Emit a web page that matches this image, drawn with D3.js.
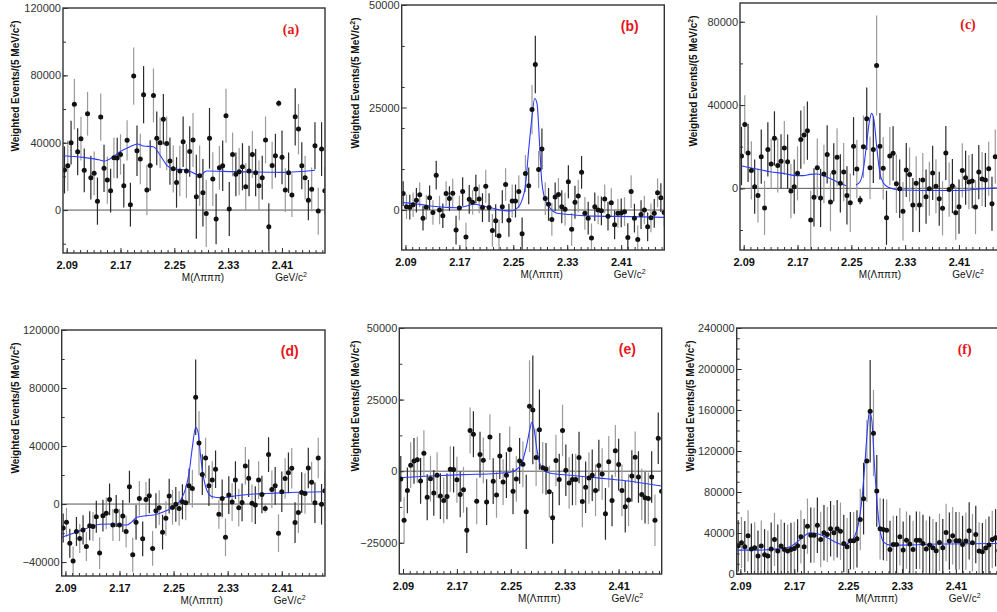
<!DOCTYPE html>
<html>
<head>
<meta charset="utf-8">
<script src="https://cdn.jsdelivr.net/npm/d3@7"></script>
<style>
  body { margin: 0; background: #fff; }
  svg { display: block; }
</style>
</head>
<body>
<svg id="chart" width="997" height="612"></svg>
<script>
// x axis: M(Lambda pi pi pi) in GeV/c^2
const massDomain = [2.0845, 2.474];
const massTicks = [2.09, 2.17, 2.25, 2.33, 2.41];
const massMinorStep = 0.01;
const firstBin = 2.0867;
const binStep = 0.0049;
const panelNames = ["(a)", "(b)", "(c)", "(d)", "(e)", "(f)"];

// weighted events per bin
const valsA = [23800, 26300, 40000, 62800, 34600, 42400, 23600, 57200, 19200, 21800,
  5300, 55200, 24800, 17800, 11500, 31100, 30900, 33000, 14500, 41400,
  3200, 79600, 35200, 30300, 68500, 11900, 26500, 68100, 42600, 40000,
  54000, 39600, 29100, 24500, 16400, 23200, 40600, 23200, 34800, 41600,
  7900, 20400, 10300, -2000, 42600, 18400, -5300, 25100, 26300, 56000,
  600, 33000, 21200, 22800, 25700, 13900, 23200, 33000, 22200, 14500,
  19200, 41600, -9900, 26500, 32300, 63400, 31300, 11900, 22200, 8900,
  55400, 48100, 26300, 19200, 5900, 12300, 38200, -600, 36200, 11500];
const valsB = [4000, 800, 700, 1300, 2400, 3700, -2000, 700, 3000, -600,
  8500, 0, -1400, 4000, 2800, 4100, -4900, 500, 4500, -6600,
  2600, 1900, 5100, 2700, 600, 5800, 600, -5000, -2600, -6300,
  800, 6200, -2500, 2200, 2200, 4500, -5800, 8900, 5900, 24500,
  35500, 9900, 14900, 2800, 1400, -2300, 3200, 3800, 800, 200,
  6900, -4700, 1900, 3400, 9200, -800, -2000, -6800, 800, 0,
  -200, 2700, -1500, 1800, -3600, -800, -700, -400, -6700, 4500,
  -2000, -7200, -1100, 0, -4100, -1900, -800, 4200, 3000, -600];
const valsC = [15500, 30700, 17000, 8600, 800, -3400, 15200, -9400, 18700, 11700,
  24000, 11000, 13000, 19400, 12800, -1300, 800, 7200, 23400, 25600,
  27700, -15200, -4300, 9900, -4600, 6900, 16300, -6600, 7700, 14900,
  2400, 7800, -3400, -6900, 20200, 9300, -5600, 20000, 33400, 9900,
  18600, 59000, 20200, 9600, -14100, 15500, 16800, 2200, -200, -11000,
  8800, 6600, -8000, 2400, -8000, 4000, -4000, -200, 7400, 1000,
  -5000, -9600, 17000, -600, 1100, -11700, -8800, 8600, 5100, 3000,
  3500, -9000, 7800, 4500, 4000, 9400, -7400, 15200];
const valsD = [-16500, -12600, -27000, -39300, -19000, -23800, -17800, -29300, -14900, -15500,
  -8700, -33800, -8000, -6400, 3200, -14400, -4800, -14400, -8200, -19000,
  11900, -35000, -12600, 3900, -24000, 3200, 5700, -30600, -4600, -2500,
  -19400, -9800, 5500, -2300, -200, -3000, 1600, 900, 12600, 10700,
  73600, 42100, 20300, 31800, 12600, 16500, 24000, -7100, 3900, -22900,
  6200, 1400, 16500, -2500, 1100, 26300, 17800, 500, -700, 16500,
  6600, -3000, 34100, 10100, 12600, -20100, 8500, 17600, 21500, 24700,
  -12800, -5900, 8000, 7300, 24900, 15100, 900, 31800, -200, 9100];
const valsE = [-2700, -17100, -6700, 2100, 3600, 4000, -3400, 6300, -9100, -2600,
  -7600, -1400, -8700, -10200, -8800, 700, 600, -3000, -8100, -6500,
  -20600, 14200, 12900, -10500, 5800, 3800, -10800, 11900, -3500, -8300,
  5300, -3800, -1400, 7600, -7000, -2700, 3600, 2400, -14200, 22700,
  21400, 4800, 14500, 1200, 800, -7200, -16300, 3700, -2900, 14200,
  300, -4100, -2900, -2900, 4800, -10600, -5600, -2400, -1400, -6700,
  2000, -1000, -14900, 3300, -10200, 7100, 2300, -6700, -12400, -10100,
  -1700, 4900, -2000, -8100, -9300, -9500, -2000, -17100, 11500, -7000];
const valsF = [27500, 30500, 26600, 37300, 24300, 25600, 17500, 27200, 18800, 17500,
  24300, 33700, 22400, 27200, 24000, 22400, 24000, 24900, 27500, 36300,
  26600, 46700, 37900, 37900, 47600, 33700, 40200, 38600, 44100, 40200,
  44100, 41800, 29800, 26600, 32400, 32400, 34300, 53100, 73500, 110200,
  158800, 137400, 81000, 44100, 43400, 42800, 24000, 28800, 28800, 36300,
  23300, 33000, 29200, 24000, 33000, 33000, 29800, 24300, 28200, 25600,
  22700, 30800, 25600, 40500, 32100, 37300, 32400, 32400, 28800, 32100,
  42100, 30500, 38600, 22400, 21700, 25300, 28200, 33700, 35300, 22700];

// half-length of the error bars, in thousands
const errA = [14, 15, 13, 15, 14, 13, 13, 13, 13, 13, 14, 14, 14, 14, 13, 12, 12, 12, 13, 12,
  13, 17, 15, 15, 17, 15, 15, 16, 16, 15, 15, 16, 14, 14, 15, 15, 15, 16, 15, 16,
  25, 18, 20, 20, 18, 16, 15, 13, 15, 16, 16, 13, 13, 14, 14, 14, 15, 14, 14, 15,
  13, 14, 14, 14, 13, 2, 16, 13, 12, 13, 17, 15, 14, 13, 12, 13, 14, 14, 16, 14];
const errB = [3, 3, 3, 3, 3, 3, 3, 3, 3, 3, 3.5, 3.5, 3, 3, 3, 3.5, 3.5, 3, 3.5, 3.5,
  3.5, 3, 3.5, 3.5, 3.5, 4, 3.5, 4, 4, 4, 4, 4, 4, 4, 4, 4, 4, 4.5, 4.5, 6,
  7, 4.5, 5, 4, 4, 4, 3.5, 4, 4, 4, 4, 4, 4, 4, 4, 4, 4, 3.5, 3.5, 3.5,
  3.5, 3.5, 3.5, 3.5, 3.5, 3.5, 3.5, 3.5, 3.5, 4, 3.5, 3.5, 3.5, 3.5, 3.5, 3.5, 3.5, 3.5, 3.5, 3.5];
const errC = [14, 14, 14, 14, 13, 13, 13, 13, 13, 12, 13, 13, 13, 13, 13, 13, 13, 13, 14, 14,
  14, 14, 14, 14, 14, 14, 14, 14, 14, 14, 14, 14, 14, 14, 14, 14, 2, 15, 15, 15,
  16, 24, 16, 15, 13, 14, 13, 14, 14, 14, 13, 13, 13, 13, 13, 13, 13, 13, 13, 13,
  13, 13, 13, 13, 13, 13, 13, 13, 13, 13, 13, 13, 13, 13, 13, 13, 13, 13];
const errD = [10, 10, 10, 10, 10, 10, 10, 10, 10, 10, 11, 11, 11, 11, 11, 11, 11, 11, 11, 11,
  11, 12, 12, 12, 12, 12, 12, 12, 12, 12, 12, 12, 12, 12, 12, 12, 12, 12, 12, 13,
  26, 22, 14, 14, 14, 13, 13, 10, 13, 13, 13, 13, 13, 13, 13, 13, 13, 13, 13, 13,
  13, 3, 12, 13, 13, 13, 14, 14, 14, 14, 14, 14, 14, 14, 14, 14, 14, 14, 14, 14];
const errE = [8, 8, 8, 8, 8, 8, 8, 8, 8, 8, 8, 8, 8, 8, 8, 8, 8, 8, 8, 8,
  8, 8, 8, 8, 8, 8, 8, 8, 8, 8, 8, 8, 8, 8, 8, 8, 8, 8, 13, 16,
  19, 10, 14, 9, 9, 9, 9, 9, 9, 9, 9, 9, 9, 9, 9, 9, 9, 9, 9, 9,
  9, 9, 9, 9, 9, 9, 9, 9, 9, 9, 9, 9, 9, 9, 9, 9, 9, 9, 9, 8];
const errF = [25, 25, 25, 25, 25, 25, 25, 25, 25, 25, 26, 26, 26, 26, 26, 26, 26, 26, 26, 26,
  27, 27, 27, 27, 27, 27, 27, 27, 27, 27, 28, 28, 28, 28, 28, 28, 28, 30, 35, 40,
  50, 42, 35, 30, 30, 30, 28, 28, 28, 28, 28, 28, 28, 28, 28, 28, 28, 28, 28, 28,
  28, 28, 28, 28, 28, 28, 28, 28, 28, 28, 28, 28, 28, 28, 28, 28, 28, 28, 28, 28];

// fitted curves [mass, events]; null marks a break in the line
const fitA = [[2.085, 32300], [2.1147, 31300], [2.1395, 29700], [2.1459, 29100], [2.1593, 31700],
  [2.1692, 34600], [2.1841, 37600], [2.1955, 39200], [2.2039, 38000], [2.2188, 37600],
  [2.2287, 32700], [2.2386, 26700], [2.2485, 24400], [2.2683, 23800], [2.2832, 21200],
  [2.2882, 20800], [2.298, 23200], [2.3378, 22800], [2.4121, 22400], [2.4591, 23600]];
const fitB = [[2.086, 1800], [2.1068, 1500], [2.1267, 1000], [2.1514, 650], [2.1663, 570],
  [2.1811, 1000], [2.191, 1400], [2.2059, 1000], [2.2257, 160], [2.2456, -240],
  [2.2555, 400], [2.2629, 2400], [2.2678, 5700], [2.2728, 14600], [2.2778, 22700],
  [2.2817, 27200], [2.2852, 26000], [2.2887, 17100], [2.2921, 7300], [2.2975, 2400],
  [2.305, 400], [2.3149, -800], [2.3347, -1100], [2.3546, -1400], [2.3744, -1500],
  [2.4239, -1600], [2.4735, -1800]];
const fitC = [[2.0869, 10700], [2.1092, 9300], [2.1291, 8000], [2.149, 7200], [2.1687, 6100],
  [2.1787, 6100], [2.1886, 6700], [2.1984, 6900], [2.2084, 6100], [2.2233, 4000],
  [2.2332, 2400], [2.242, 1300], null,
  [2.2569, 1600], [2.2629, 3200], [2.2678, 8800], [2.2728, 21600], [2.2768, 32000],
  [2.2802, 36000], [2.2837, 32800], [2.2877, 20000], [2.2926, 7200], [2.2975, 2700],
  [2.305, 500], [2.3224, -800], [2.357, -1000], [2.4116, -1000], [2.4413, -300], [2.4661, 300]];
const fitD = [[2.0845, -22900], [2.1018, -20100], [2.1217, -16700], [2.1415, -13900], [2.1613, -13700],
  [2.1811, -14400], [2.1886, -12100], [2.196, -9100], [2.2059, -8200], [2.2207, -7500],
  [2.2356, -5300], [2.2505, -1800], [2.2604, 2700], [2.2678, 10700], [2.2728, 21000],
  [2.2778, 39300], [2.2827, 53000], [2.2862, 49600], [2.2901, 32500], [2.2951, 16500],
  [2.3001, 8500], [2.3075, 5000], [2.3198, 4300], [2.3397, 5500], [2.3694, 6900],
  [2.3893, 7300], [2.4239, 8000], [2.473, 8500]];
const fitE = [[2.0855, -2300], [2.1301, -1700], [2.1796, -1200], [2.2292, -800], [2.2491, -350],
  [2.2589, 600], [2.2664, 2900], [2.2738, 9300], [2.2788, 15100], [2.2812, 17100],
  [2.2847, 14500], [2.2887, 7600], [2.2937, 2300], [2.3011, 0], [2.3134, -900],
  [2.3382, -1400], [2.3679, -2100], [2.4026, -2900], [2.4274, -3500], [2.4522, -4400], [2.474, -5200]];
const fitF = [[2.0845, 23300], [2.1142, 23300], [2.144, 24300], [2.1638, 26600], [2.1787, 33700],
  [2.1936, 40200], [2.2034, 39500], [2.2183, 35600], [2.2332, 30500], [2.243, 28200],
  [2.2529, 31400], [2.2604, 37900], [2.2654, 49200], [2.2703, 71900], [2.2752, 110800],
  [2.2788, 143200], [2.2817, 158800], [2.2852, 149700], [2.2887, 110800], [2.2926, 71900],
  [2.2966, 46000], [2.3025, 31400], [2.3124, 28200], [2.3323, 28200], [2.3818, 29200], [2.471, 29800]];

// y axis ranges and labelled values
const yDomains = [[-25500, 120000], [-9750, 50000], [-29600, 89000],
  [-49600, 120000], [-35900, 50000], [0, 240000]];
const yLabelValues = [[0, 40000, 80000, 120000], [0, 25000, 50000], [0, 40000, 80000],
  [-40000, 0, 40000, 80000, 120000], [-25000, 0, 25000, 50000],
  [0, 40000, 80000, 120000, 160000, 200000, 240000]];
const yMinorSteps = [20000, 10000, 20000, 20000, 12500, 10000];

const allVals = [valsA, valsB, valsC, valsD, valsE, valsF];
const allErrs = [errA, errB, errC, errD, errE, errF];
const allFits = [fitA, fitB, fitC, fitD, fitE, fitF];

// layout: frame [left, top, right, bottom]
const frames = [[63, 8, 325, 253], [401.7, 5, 664.3, 250], [740, 3, 1002, 250],
  [61.7, 330, 325, 576], [399.3, 328, 661.7, 574], [736.7, 328, 999, 574]];
const titleX = [15, 355, 693, 15, 355, 690];
const nameSerif = [true, false, true, false, false, true];

const svg = d3.select("#chart");
const defs = svg.append("defs");
const fmt = v => v < 0 ? "\u2212" + Math.abs(v) : String(v);
const sans = "Liberation Sans, Arial, sans-serif";

panelNames.forEach((name, k) => {
  const [L, T, R, B] = frames[k];
  const vals = allVals[k], errs = allErrs[k];
  const x = d3.scaleLinear().domain(massDomain).range([L, R]);
  const y = d3.scaleLinear().domain(yDomains[k]).range([B, T]);
  const g = svg.append("g");

  defs.append("clipPath").attr("id", "clip" + k)
    .append("rect").attr("x", L).attr("y", T).attr("width", R - L).attr("height", B - T);
  const inner = g.append("g").attr("clip-path", `url(#clip${k})`);

  // zero line
  inner.append("line")
    .attr("x1", L).attr("x2", R)
    .attr("y1", y(0)).attr("y2", y(0))
    .attr("stroke", "#555").attr("stroke-width", 1);

  const bx = i => x(firstBin + i * binStep);

  // error bars, drawn alternately dark and grey like the scan
  inner.selectAll(".err").data(vals).join("line")
    .attr("class", "err")
    .attr("x1", (d, i) => bx(i)).attr("x2", (d, i) => bx(i))
    .attr("y1", (d, i) => y(d - errs[i] * 1000))
    .attr("y2", (d, i) => y(d + errs[i] * 1000))
    .attr("stroke", (d, i) => i % 2 ? "#9a9a9a" : "#2a2a2a")
    .attr("stroke-width", 1.2);

  // fit curve
  const line = d3.line()
    .defined(d => d !== null)
    .x(d => x(d[0])).y(d => y(d[1]))
    .curve(d3.curveMonotoneX);
  inner.append("path")
    .attr("d", line(allFits[k]))
    .attr("fill", "none")
    .attr("stroke", "#2b3bff")
    .attr("stroke-width", 1.1);

  // data points
  inner.selectAll(".pt").data(vals).join("circle")
    .attr("class", "pt")
    .attr("cx", (d, i) => bx(i))
    .attr("cy", d => y(d))
    .attr("r", 2.5)
    .attr("fill", "#111");

  // frame
  g.append("rect")
    .attr("x", L).attr("y", T).attr("width", R - L).attr("height", B - T)
    .attr("fill", "none").attr("stroke", "#333").attr("stroke-width", 1.4);

  // y axis: minor ticks, then labelled ticks
  const [y0, y1] = yDomains[k];
  const step = yMinorSteps[k];
  const minor = d3.range(Math.ceil(y0 / step) * step, y1 + 1, step);
  const minorAxis = g.append("g").attr("transform", `translate(${L},0)`)
    .call(d3.axisLeft(y).tickValues(minor).tickSize(-3).tickFormat(""));
  minorAxis.select(".domain").remove();
  minorAxis.selectAll("line").attr("stroke", "#333");

  const yAxis = g.append("g").attr("transform", `translate(${L},0)`)
    .call(d3.axisLeft(y).tickValues(yLabelValues[k]).tickSize(-5).tickPadding(2).tickFormat(fmt));
  yAxis.select(".domain").remove();
  yAxis.selectAll("line").attr("stroke", "#333");
  yAxis.selectAll("text")
    .attr("font-family", sans)
    .attr("font-size", 11).attr("fill", "#333");

  // x axis: small inside ticks every 10 MeV, labels at the major values
  const xMinor = d3.range(massTicks[0], massDomain[1], massMinorStep);
  const xMinorAxis = g.append("g").attr("transform", `translate(0,${B})`)
    .call(d3.axisBottom(x).tickValues(xMinor).tickSize(-3).tickFormat(""));
  xMinorAxis.select(".domain").remove();
  xMinorAxis.selectAll("line").attr("stroke", "#333");

  const xAxis = g.append("g").attr("transform", `translate(0,${B})`)
    .call(d3.axisBottom(x).tickValues(massTicks).tickSize(-5).tickPadding(8).tickFormat(d3.format(".2f")));
  xAxis.select(".domain").remove();
  xAxis.selectAll("line").attr("stroke", "#333");
  xAxis.selectAll("text")
    .attr("y", 8)
    .attr("font-family", sans)
    .attr("font-size", 11).attr("font-weight", "bold").attr("fill", "#111");

  // axis titles
  g.append("text")
    .attr("x", L + 140).attr("y", B + 28)
    .attr("text-anchor", "middle")
    .attr("font-family", sans)
    .attr("font-size", 10).attr("fill", "#111")
    .text("M(\u039B\u03C0\u03C0\u03C0)");

  const gev = g.append("text")
    .attr("x", L + 228).attr("y", B + 28)
    .attr("text-anchor", "middle")
    .attr("font-family", sans)
    .attr("font-size", 10).attr("fill", "#111");
  gev.append("tspan").text("GeV/c");
  gev.append("tspan").attr("dy", -4).attr("font-size", 7).text("2");

  const yt = g.append("text")
    .attr("transform", `translate(${titleX[k]},${T + 78}) rotate(-90)`)
    .attr("text-anchor", "middle")
    .attr("dy", "0.35em")
    .attr("font-family", sans)
    .attr("font-size", 10).attr("font-weight", "bold").attr("fill", "#111");
  yt.append("tspan").text("Weighted Events/(5 MeV/c");
  yt.append("tspan").attr("dy", -4).attr("font-size", 7).text("2");
  yt.append("tspan").attr("dy", 4).text(")");

  // panel tag
  g.append("text")
    .attr("x", L + 228).attr("y", T + 26)
    .attr("text-anchor", "middle")
    .attr("font-family", nameSerif[k] ? "Liberation Serif, serif" : sans)
    .attr("font-size", 14).attr("font-weight", "bold")
    .attr("fill", "#e8141a")
    .text(name);
});
</script>
</body>
</html>
